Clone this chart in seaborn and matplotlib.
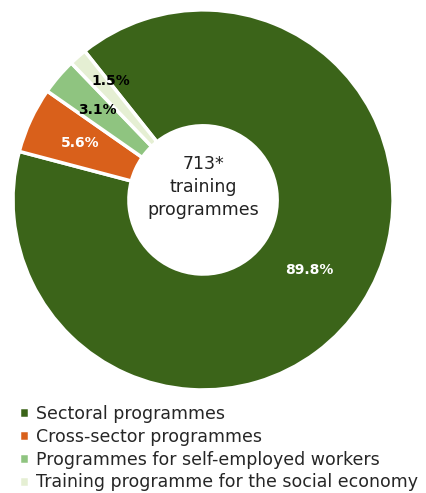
import matplotlib
matplotlib.use("Agg")
import numpy as np
import matplotlib.pyplot as plt
import seaborn as sns

# data
categories = ["Sectoral programmes", "Cross-sector programmes",
              "Programmes for self-employed workers",
              "Training programme for the social economy"]
shares = [89.8, 5.6, 3.1, 1.5]
colors = ["#3b6419", "#d9601b", "#8fc480", "#e5efd3"]
label_colors = ["white", "white", "black", "black"]
total_label = "713*\ntraining\nprogrammes"

sns.set_theme(style="white")
plt.rcParams["font.family"] = ["DejaVu Sans"]

fig = plt.figure(figsize=(4.27, 4.93), dpi=100)
ax = fig.add_axes([0.026, 0.205, 0.899, 0.779])

wedges, _ = ax.pie(
    shares, colors=colors, startangle=128.5, counterclock=False, radius=1.0,
    wedgeprops=dict(width=0.61, edgecolor="white", linewidth=2.5),
)

# percentage labels placed in their wedges
label_r = [0.67, 0.71, 0.73, 0.79]
label_shift = [0, 0, 0, -3.5]
for w, v, c, r, s in zip(wedges, shares, label_colors, label_r, label_shift):
    ang = np.deg2rad((w.theta1 + w.theta2) / 2 + s)
    ax.text(r * np.cos(ang), r * np.sin(ang), f"{v:.1f}%", ha="center",
            va="center", color=c, fontsize=10, fontweight="bold")

ax.text(0, 0.07, total_label, ha="center", va="center", fontsize=12.5,
        linespacing=1.35, color="#222222")
ax.set_xlim(-1.01, 1.01)
ax.set_ylim(-1.01, 1.01)
ax.set_aspect("equal")

fig.legend(wedges, categories, loc="lower left", bbox_to_anchor=(0.02, -0.018),
           frameon=False, fontsize=12.5, handlelength=0.6, handleheight=0.6,
           handletextpad=0.4, labelspacing=0.28, borderaxespad=0.2)

fig.savefig("out.png", dpi=100)
